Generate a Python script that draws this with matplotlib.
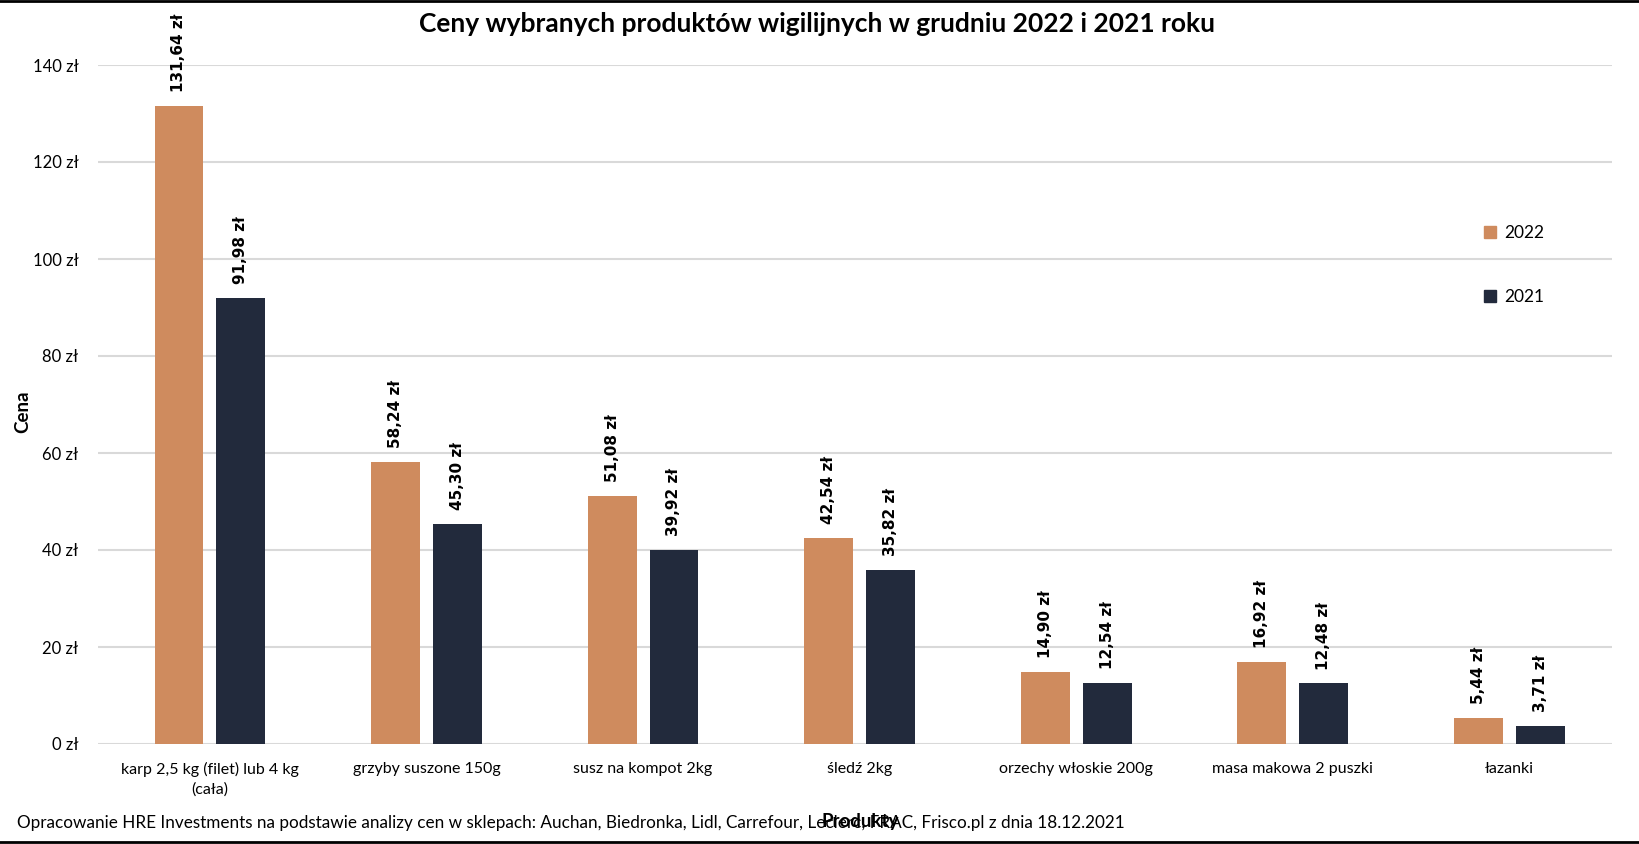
import matplotlib
matplotlib.use("Agg")
import matplotlib.pyplot as plt
from matplotlib.lines import Line2D
from matplotlib.patches import Patch
import numpy as np

# Data
products = ["karp 2,5 kg (filet) lub 4 kg\n(cała)", "grzyby suszone 150g", "susz na kompot 2kg",
            "śledź 2kg", "orzechy włoskie 200g", "masa makowa 2 puszki", "łazanki"]
prices_2022 = [131.64, 58.24, 51.08, 42.54, 14.90, 16.92, 5.44]
prices_2021 = [91.98, 45.30, 39.92, 35.82, 12.54, 12.48, 3.71]
years = ["2022", "2021"]
y_ticks = [0, 20, 40, 60, 80, 100, 120, 140]

C22 = "#CF8B5E"
C21 = "#222A3C"
FONT = "Lato"

def zl(v):
    return f"{v:.2f}".replace(".", ",") + " zł"

fig = plt.figure(figsize=(16.4, 8.44), dpi=100)
ax = fig.add_axes([98 / 1640, 100 / 844, 1514 / 1640, 679 / 844])

x = np.arange(len(products))
w = 0.226
off = 0.143
b22 = ax.bar(x - off, prices_2022, w, color=C22, zorder=3)
b21 = ax.bar(x + off, prices_2021, w, color=C21, zorder=3)

for bars, vals in ((b22, prices_2022), (b21, prices_2021)):
    for b, v in zip(bars, vals):
        ax.annotate(zl(v), (b.get_x() + b.get_width() / 2, v), xytext=(0, 10),
                    textcoords="offset points", rotation=90, ha="center", va="bottom",
                    fontsize=11, fontweight="bold", family="DejaVu Sans", annotation_clip=False)

ax.set_xlim(-0.517, 6.475)
ax.set_ylim(0, 140)
ax.set_yticks(y_ticks)
ax.set_yticklabels([f"{t} zł" for t in y_ticks], family=FONT, fontsize=12)
ax.set_xticks(x)
ax.set_xticklabels(products, family=FONT, fontsize=11.5, linespacing=1.5)
ax.tick_params(length=0)
ax.tick_params(axis="x", pad=13)
ax.tick_params(axis="y", pad=14)
ax.grid(axis="y", color="#D9D9D9", lw=1.5, zorder=0)
for s in ax.spines.values():
    s.set_visible(False)

fig.text(23 / 1640, 1 - 412 / 844, "Cena", rotation=90, ha="center", va="center",
         family=FONT, fontsize=13.5, fontweight="bold")
fig.text(817 / 1640, 1 - 24 / 844, "Ceny wybranych produktów wigilijnych w grudniu 2022 i 2021 roku",
         ha="center", va="center", family=FONT, fontsize=19, fontweight="bold")
fig.text(860 / 1640, 1 - 821 / 844, "Produkty", ha="center", va="center",
         family=FONT, fontsize=13.5, fontweight="bold")
fig.text(17 / 1640, 1 - 823 / 844,
         "Opracowanie HRE Investments na podstawie analizy cen w sklepach: Auchan, Biedronka, Lidl, Carrefour, Leclerc, FRAC, Frisco.pl z dnia 18.12.2021",
         ha="left", va="center", family=FONT, fontsize=12.35)

handles = [Patch(color=C22), Patch(color=C21)]
fig.legend(handles, years, loc="center left", bbox_to_anchor=(1475 / 1640, 1 - 265 / 844),
           frameon=False, prop={"family": FONT, "size": 12.5}, handlelength=0.7, handleheight=0.7,
           handletextpad=0.5, labelspacing=2.75, borderpad=0)

fig.add_artist(Line2D([0, 1], [1 - 0.5 / 844, 1 - 0.5 / 844], color="black", lw=2))
fig.add_artist(Line2D([0, 1], [1 - 842 / 844, 1 - 842 / 844], color="black", lw=2))

fig.savefig("out.png", dpi=100, facecolor="white")
